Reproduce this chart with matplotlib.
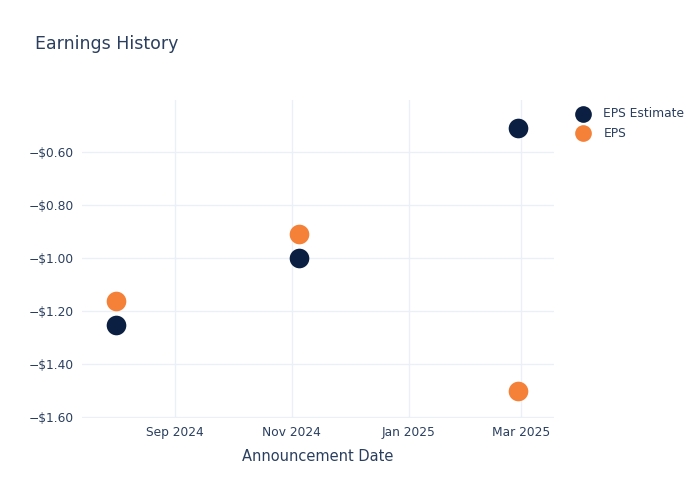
import matplotlib.pyplot as plt
import matplotlib.dates as mdates
import pandas as pd
from matplotlib.ticker import FuncFormatter

# earnings data
dates = pd.to_datetime(['2024-08-01', '2024-11-05', '2025-02-27'])
eps_estimate = [-1.25, -1.00, -0.51]
eps_actual = [-1.16, -0.91, -1.50]
series_names = ['EPS Estimate', 'EPS']

navy = '#0b1f42'
orange = '#f58038'
text_col = '#2a3f5f'
grid_col = '#ebf0f8'

fig = plt.figure(figsize=(7, 5), dpi=100)
ax = fig.add_axes([82 / 700, 1 - 418 / 500, (554 - 82) / 700, (418 - 100) / 500])

ax.scatter(dates, eps_estimate, s=200, color=navy, label=series_names[0], zorder=3, linewidths=0)
ax.scatter(dates, eps_actual, s=200, color=orange, label=series_names[1], zorder=3, linewidths=0)

ax.set_xlim(pd.Timestamp('2024-07-14 10:00'), pd.Timestamp('2025-03-18'))
ax.set_ylim(-1.602, -0.404)

ax.xaxis.set_major_locator(mdates.MonthLocator(bymonth=[1, 3, 9, 11]))
ax.xaxis.set_major_formatter(mdates.DateFormatter('%b %Y'))
ax.set_yticks([-1.6, -1.4, -1.2, -1.0, -0.8, -0.6])
ax.yaxis.set_major_formatter(FuncFormatter(lambda v, p: '\u2212$%.2f' % abs(v)))

for s in ax.spines.values():
    s.set_visible(False)
ax.grid(True, color=grid_col, linewidth=1)
ax.set_axisbelow(True)
ax.tick_params(length=0, labelsize=8.8, colors=text_col, pad=6)

ax.set_xlabel('Announcement Date', fontsize=10.5, color=text_col, labelpad=7)

fig.text(35 / 700, 1 - 44 / 500, 'Earnings History', fontsize=12.5, color=text_col, va='center')

ax.legend(loc='upper left', bbox_to_anchor=(566 / 700, 1 - 102 / 500), bbox_transform=fig.transFigure,
          frameon=False, fontsize=8.8, labelcolor=text_col, handletextpad=0.65,
          labelspacing=0.55, borderaxespad=0, markerscale=0.85)

fig.savefig('out.png', dpi=100)
